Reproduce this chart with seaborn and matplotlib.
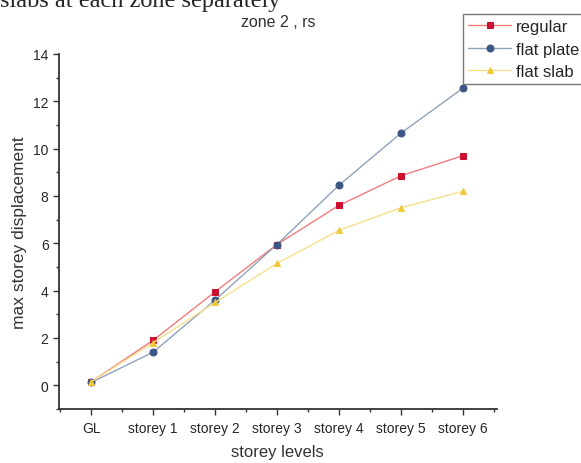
import pandas as pd
import matplotlib.pyplot as plt
import seaborn as sns
from matplotlib.ticker import MultipleLocator

levels = ["GL", "storey 1", "storey 2", "storey 3", "storey 4", "storey 5", "storey 6"]
regular = [0.15, 1.9, 3.95, 5.95, 7.6, 8.85, 9.7]
flat_plate = [0.12, 1.4, 3.6, 5.95, 8.45, 10.65, 12.55]
flat_slab = [0.15, 1.8, 3.5, 5.15, 6.55, 7.5, 8.2]

sns.set_style("ticks")
plt.rcParams['font.family'] = ['Liberation Sans', 'DejaVu Sans']

fig = plt.figure(figsize=(5.81, 4.64), dpi=100)
ax = fig.add_axes([0.1015, 0.1164, 0.7535, 0.7651])

series = [
    ("regular", regular, "s", "#f27b7b", "#cc1030"),
    ("flat plate", flat_plate, "o", "#8fa3bb", "#3b5684"),
    ("flat slab", flat_slab, "^", "#f7df8c", "#efc93a"),
]
x = list(range(len(levels)))
for name, vals, mk, lc, mc in series:
    df = pd.DataFrame({"x": x, "y": vals})
    sns.lineplot(data=df, x="x", y="y", ax=ax, color=lc, lw=1.0,
                 marker=mk, markersize=5, markerfacecolor=mc,
                 markeredgecolor=mc, label=name)

ax.set_xlim(-0.52, 6.55)
ax.set_ylim(-1, 14)
ax.set_xticks(x)
ax.set_xticklabels(levels, fontsize=10)
ax.xaxis.set_minor_locator(MultipleLocator(0.5))
ax.yaxis.set_major_locator(MultipleLocator(2))
ax.yaxis.set_minor_locator(MultipleLocator(1))
ax.tick_params(axis='y', labelsize=10)
ax.tick_params(axis='x', pad=5)
ax.tick_params(which='major', length=4, width=1, color='#333333')
ax.tick_params(which='minor', length=2.5, width=1, color='#333333')
for s in ["left", "bottom"]:
    ax.spines[s].set_linewidth(1.3)
    ax.spines[s].set_color('#333333')
sns.despine(ax=ax)

ax.set_xlabel("storey levels", fontsize=12, color='#333333', labelpad=6)
ax.set_ylabel("max storey displacement", fontsize=12.5, color='#333333')
ax.set_title("zone 2 , rs", fontsize=11.5, color='#333333', pad=20)

leg = ax.legend(loc='upper left', bbox_to_anchor=(463 / 581, 1 - 15 / 464),
                bbox_transform=fig.transFigure, fontsize=12, frameon=True,
                fancybox=False, edgecolor='#555555', borderpad=0.3,
                labelspacing=0.45, handlelength=2.6, handletextpad=0.3,
                borderaxespad=0)
leg.get_frame().set_linewidth(1.0)

fig.text(0.0, 1 - 7 / 464, "slabs at each zone separately", fontsize=17.5,
         family=['Liberation Serif', 'DejaVu Serif'], va='baseline', ha='left')

fig.savefig("out.png", dpi=100)
